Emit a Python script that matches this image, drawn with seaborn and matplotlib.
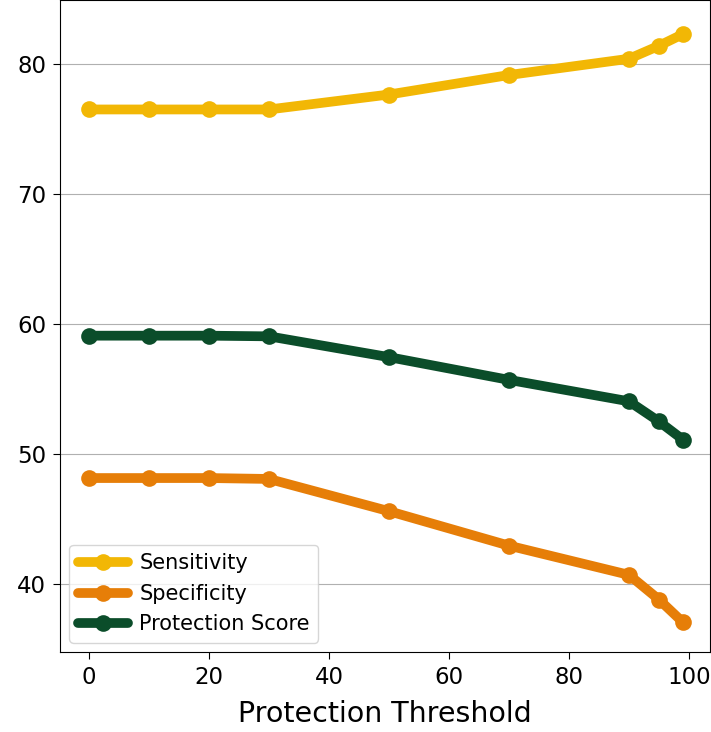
import matplotlib
matplotlib.use("Agg")
import matplotlib.pyplot as plt
import seaborn as sns
import pandas as pd

thresholds = [0, 10, 20, 30, 50, 70, 90, 95, 99]
sensitivity = [76.5, 76.5, 76.5, 76.5, 77.65, 79.15, 80.4, 81.4, 82.3]
specificity = [48.15, 48.15, 48.15, 48.08, 45.6, 42.95, 40.7, 38.8, 37.05]
protection = [59.1, 59.1, 59.1, 59.05, 57.45, 55.7, 54.05, 52.5, 51.1]
series_names = ["Sensitivity", "Specificity", "Protection Score"]
colors = ["#F2B705", "#E67E08", "#0B4D2A"]

df = pd.concat([
    pd.DataFrame({"Protection Threshold": thresholds, "value": vals, "Metric": name})
    for name, vals in zip(series_names, [sensitivity, specificity, protection])
])

sns.set_style("white")
plt.rcParams.update({
    "text.color": "black", "axes.labelcolor": "black",
    "xtick.color": "black", "ytick.color": "black",
})
fig, ax = plt.subplots(figsize=(7.11, 7.32), dpi=100)
fig.subplots_adjust(left=0.0844, right=0.9986, bottom=0.1093, top=1.0)

sns.lineplot(data=df, x="Protection Threshold", y="value", hue="Metric",
             palette=colors, hue_order=series_names, linewidth=7,
             marker="o", markersize=12, markeredgewidth=0, ax=ax)

ax.set_xlim(-4.83, 103.5)
ax.set_ylim(34.77, 84.92)
ax.yaxis.grid(True, color="#b0b0b0", linewidth=0.8)
ax.xaxis.grid(False)
ax.set_axisbelow(True)
ax.set_ylabel("")
ax.set_xlabel("Protection Threshold", fontsize=20.5, labelpad=8)
ax.tick_params(axis="both", labelsize=16.5, length=5, width=0.8, pad=5,
               left=True, bottom=True, colors="black")
ax.set_yticks([40, 50, 60, 70, 80])
ax.set_xticks([0, 20, 40, 60, 80, 100])
for s in ax.spines.values():
    s.set_color("black")
    s.set_linewidth(0.8)

leg = ax.legend(loc="lower left", fontsize=15, frameon=True, handlelength=2.4,
                handletextpad=0.55, labelspacing=0.5, borderaxespad=0.45)
leg.get_frame().set_edgecolor("#cccccc")

fig.savefig("out.png", dpi=100)
